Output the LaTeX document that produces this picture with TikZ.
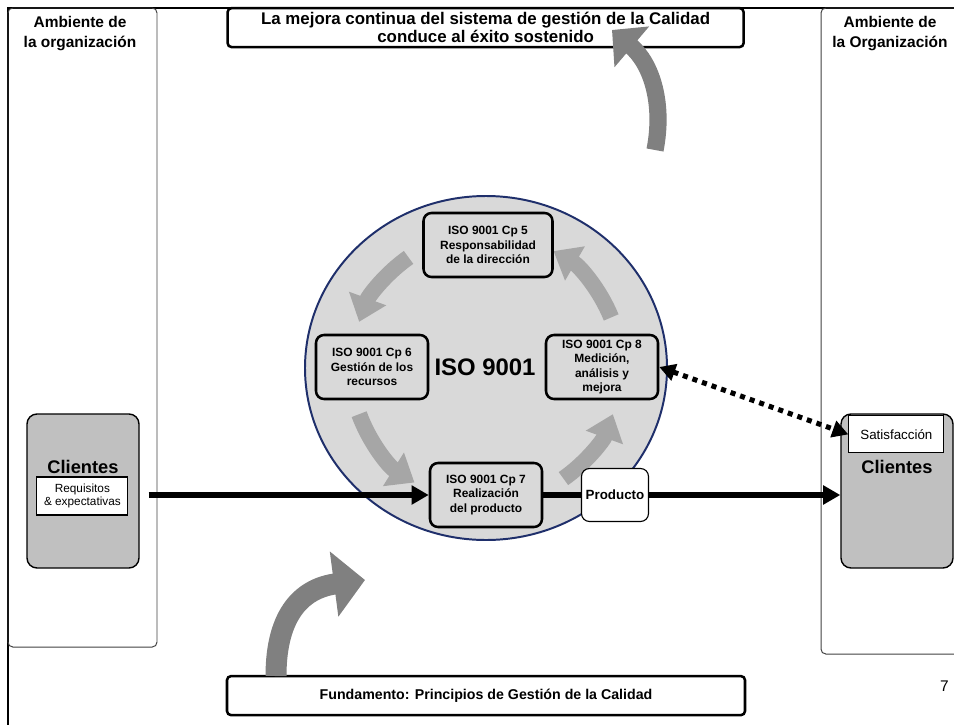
\documentclass[tikz,border=0pt]{standalone}
\usepackage{fontspec}
\setmainfont{Liberation Sans}
\usetikzlibrary{arrows.meta}

\definecolor{circfill}{HTML}{D9D9D9}
\definecolor{clientgray}{HTML}{C0C0C0}
\definecolor{turngray}{HTML}{A6A6A6}
\definecolor{biggray}{HTML}{808080}
\definecolor{isoblue}{HTML}{1F2F6B}

\begin{document}
\begin{tikzpicture}[
    panel/.style={draw=black!75, line width=0.7pt, rounded corners=0.12cm},
    heading/.style={align=center, font=\fontsize{11}{14.2}\selectfont\bfseries},
    banner/.style={rectangle, draw, line width=1.8pt, rounded corners=0.1cm, fill=white, inner sep=0pt, minimum width=12.9cm, minimum height=0.975cm, align=center, font=\fontsize{11}{12.8}\selectfont\bfseries},
    cpbox/.style={rectangle, draw, line width=1.8pt, rounded corners=0.2cm, fill=circfill, inner sep=0pt, minimum width=2.8cm, minimum height=1.6cm, align=center, font=\fontsize{8.5}{10.3}\selectfont\bfseries},
    client/.style={rectangle, draw, line width=1pt, rounded corners=0.25cm, fill=clientgray, inner sep=0pt, minimum width=2.8cm, minimum height=3.85cm},
    tag/.style={rectangle, draw, line width=0.8pt, fill=white, inner sep=0pt, align=center},
    flow/.style={line width=4.5pt},
    turnarrow/.style={draw=turngray, line width=0.4cm, -{Triangle[length=0.62cm, width=0.95cm]}},
    dotlink/.style={line width=3.6pt, dash pattern=on 3.6pt off 3.6pt, {Triangle[length=0.4cm, width=0.42cm]}-{Triangle[length=0.4cm, width=0.42cm]}}
]
    \clip (0,0) rectangle (23.85,-18.1);

    % Marco
    \draw[line width=2pt] (0.2,-18.3) -- (0.2,-0.2) -- (24.2,-0.2);

    % Ambiente de la organizacion
    \draw[panel] (0.2,-0.2) rectangle (3.925,-16.175);
    \draw[panel] (20.525,-0.2) rectangle (24.6,-16.35);
    \node[heading] (ambL) at (2.0,-0.83) {Ambiente de\\la organización};
    \node[heading] (ambR) at (22.25,-0.83) {Ambiente de\\la Organización};

    % ISO 9001
    \coordinate (ctr) at (12.15,-9.2);
    \draw[fill=circfill, draw=isoblue, line width=1.4pt] (ctr) ellipse [x radius=4.525, y radius=4.3];
    \foreach \a/\b in {22/60, 125/160, 200/238, 305/340}
        \draw[turnarrow] ([shift={(\a:3.375)}]ctr) arc [start angle=\a, end angle=\b, radius=3.375];
    \node[font=\fontsize{17}{17}\selectfont\bfseries] (iso) at (12.125,-9.175) {ISO 9001};

    \node[cpbox, minimum width=3.225cm] (cp5) at (12.2,-6.125) {ISO 9001 Cp 5\\Responsabilidad\\de la dirección};
    \node[cpbox] (cp6) at (9.3,-9.175) {ISO 9001 Cp 6\\Gestión de los\\recursos};
    \node[cpbox] (cp8) at (15.05,-9.175) {ISO 9001 Cp 8\\Medición,\\análisis y\\mejora};
    \node[cpbox] (cp7) at (12.15,-12.375) {ISO 9001 Cp 7\\Realización\\del producto};

    % Clientes
    \node[client] (clL) at (2.075,-12.275) {};
    \node[font=\fontsize{13}{13}\selectfont\bfseries] (clLtxt) at (2.075,-11.675) {Clientes};
    \node[tag, minimum width=2.275cm, minimum height=0.95cm, font=\fontsize{8.4}{9.6}\selectfont] (req) at (2.06,-12.4) {Requisitos\\\& expectativas};

    \node[client] (clR) at (22.425,-12.275) {};
    \node[font=\fontsize{13}{13}\selectfont\bfseries] (clRtxt) at (22.425,-11.675) {Clientes};
    \node[tag, minimum width=2.375cm, minimum height=0.925cm, font=\fontsize{9.5}{11}\selectfont] (sat) at (22.41,-10.86) {Satisfacción};

    % Flujo del producto
    \draw[flow, -{Triangle[length=0.43cm, width=0.46cm]}, shorten <=0.22cm] (cp7.west -| clL.east) -- (cp7.west);
    \node[tag, draw, line width=0.8pt, rounded corners=0.2cm, minimum width=1.675cm, minimum height=1.325cm, font=\fontsize{9.5}{11}\selectfont\bfseries] (prod) at (15.375,-12.375) {Producto};
    \draw[flow] (cp7.east) -- (prod.west);
    \draw[flow, -{Triangle[length=0.43cm, width=0.46cm]}] (prod.east) -- (prod.east -| clR.west);

    \draw[dotlink] (cp8.east) -- (sat.west);

    % Mejora y fundamento
    \node[banner, font=\fontsize{12}{13}\selectfont\bfseries] (mejora) at (12.14,-0.69) {La mejora continua del sistema de gestión de la Calidad\\conduce al éxito sostenido};
    \node[banner, minimum width=12.95cm, font=\fontsize{10.1}{12}\selectfont\bfseries] (fund) at (12.15,-17.39) {Fundamento: Principios de Gestión de la Calidad};

    \coordinate (upS) at (16.375,-3.75);
    \coordinate (upE) at (15.3,-0.75);
    \draw[draw=biggray, line width=0.43cm, -{Triangle[length=0.65cm, width=1.3cm]}] (upS) .. controls (16.6,-2.6) and (16.3,-1.6) .. (upE);
    \coordinate (baseS) at (6.9,-16.9);
    \coordinate (baseE) at (9.125,-14.5);
    \draw[draw=biggray, line width=0.525cm, -{Triangle[length=0.78cm, width=1.6cm]}] (baseS) .. controls (6.9,-15.3) and (7.6,-14.7) .. (baseE);

    \node[anchor=east, font=\fontsize{11}{11}\selectfont] (pag) at (23.84,-17.15) {7};
\end{tikzpicture}
\end{document}
